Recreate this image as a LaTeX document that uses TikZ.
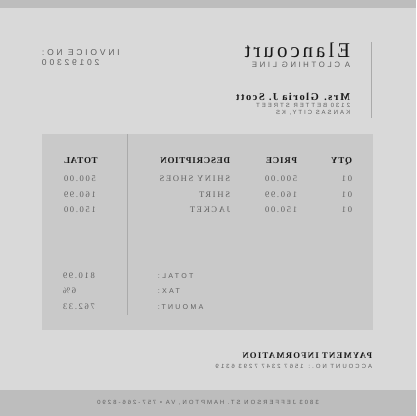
\documentclass[tikz,border=0pt]{standalone}
\usepackage{fontspec}
\usepackage{xcolor}
\usetikzlibrary{positioning}
\setmainfont{Liberation Serif}
\newfontfamily\spaced[LetterSpace=33]{Liberation Sans}
\newfontfamily\display[LetterSpace=14]{Liberation Serif}
\newfontfamily\headserif[LetterSpace=8]{Liberation Serif}
\newfontfamily\cellserif[LetterSpace=20]{Liberation Serif}
\definecolor{paper}{RGB}{217,217,217}
\definecolor{band}{RGB}{189,189,189}
\definecolor{panel}{RGB}{201,201,201}
\definecolor{rulecol}{RGB}{170,170,170}
\definecolor{ink}{RGB}{25,25,25}
\definecolor{soft}{RGB}{95,95,95}

\begin{document}
\begin{tikzpicture}[x=1pt,y=-1pt,inner sep=0pt,outer sep=0pt,
			head/.style={font=\headserif\fontsize{9}{9}\selectfont\bfseries,text=ink},
			cell/.style={font=\cellserif\fontsize{8.5}{8.5}\selectfont,text=soft},
			tiny/.style={font=\spaced\fontsize{6}{6}\selectfont,text=soft}]
				\tikzstyle{label}=[font=\spaced\fontsize{7}{7}\selectfont,text=soft]
				
				\useasboundingbox (0,0) rectangle (416,416);
				\fill[paper] (0,0) rectangle (416,416);
				\fill[band] (0,0) rectangle (416,8);
				\fill[band] (0,390) rectangle (416,416);
				
				\begin{scope}[shift={(416,0)},xscale=-1,transform shape]
				\fill[panel] (43,134) rectangle (374,330);
				\draw[rulecol,line width=1pt] (289,134) -- (289,315);
				\draw[rulecol,line width=1pt] (45,42) -- (45,118);
				
				% header
				\node[anchor=base west,font=\display\fontsize{21}{21}\selectfont,text=ink] (E) at (66,57) {Elancourt};
				\node[tiny,font=\spaced\fontsize{7.8}{7.8}\selectfont] (EL) [below right=5pt and 0pt of E.base west] {A CLOTHING LINE};
				\node[anchor=west,font=\display\fontsize{10.5}{10.5}\selectfont\bfseries,text=ink] (C) at (66,97) {Mrs. Gloria J. Scott};
				\node[tiny] (CS) [below right=3pt and 0pt of C.south west] {2130 BETTER STREET};
				\node[tiny] (CC) [below right=2.5pt and 0pt of CS.south west] {KANSAS CITY, KS};
				\node[label,font=\spaced\fontsize{8.5}{8.5}\selectfont,anchor=east] (IN) at (374,53) {INVOICE NO:};
				\node[label,font=\spaced\fontsize{8.5}{8.5}\selectfont,anchor=east] (IV) at (374,63) {20192300};
				
				% table
				\node[head,anchor=west] (Q) at (64,161) {QTY};
				\node[head,anchor=west] (P) at (119,161) {PRICE};
				\node[head,anchor=west] (D) at (186,161) {DESCRIPTION};
				\node[head,anchor=east] (T) at (352,161) {TOTAL};
				
				\node[cell,anchor=west] (Q1) at (64,179) {01};
				\node[cell,anchor=west] (P1) at (119,179) {500.00};
				\node[cell,anchor=west] (D1) at (186,179) {SHINY SHOES};
				\node[cell,anchor=east] (T1) at (352,179) {500.00};
				\node[cell,anchor=west] (Q2) at (64,195) {01};
				\node[cell,anchor=west] (P2) at (119,195) {160.99};
				\node[cell,anchor=west] (D2) at (186,195) {SHIRT};
				\node[cell,anchor=east] (T2) at (352,195) {160.99};
				\node[cell,anchor=west] (Q3) at (64,210) {01};
				\node[cell,anchor=west] (P3) at (119,210) {150.00};
				\node[cell,anchor=west] (D3) at (186,210) {JACKET};
				\node[cell,anchor=east] (T3) at (352,210) {150.00};
				
				\node[label,anchor=east] (ST) at (258,276) {TOTAL:};
				\node[label,anchor=east] (SX) at (258,291) {TAX:};
				\node[label,anchor=east] (SA) at (258,307) {AMOUNT:};
				\node[cell,anchor=east] (VT) at (353,276) {810.99};
				\node[cell,anchor=east] (VX) at (353,291) {6\%};
				\node[cell,anchor=east] (VA) at (353,307) {762.33};
				
				% payment and footer
				\node[anchor=west,font=\display\fontsize{8.7}{8.7}\selectfont\bfseries,text=ink] (PI) at (44,356) {PAYMENT INFORMATION};
				\node[tiny] (AC) [below right=5pt and 0pt of PI.south west] {ACCOUNT NO.: 1567 2347 7293 6319};
				\node[tiny] (F) at (208,403) {3803 JEFFERSON ST. HAMPTON, VA \textbullet{} 757-266-8290};
				\end{scope}
			\end{tikzpicture}
\end{document}
